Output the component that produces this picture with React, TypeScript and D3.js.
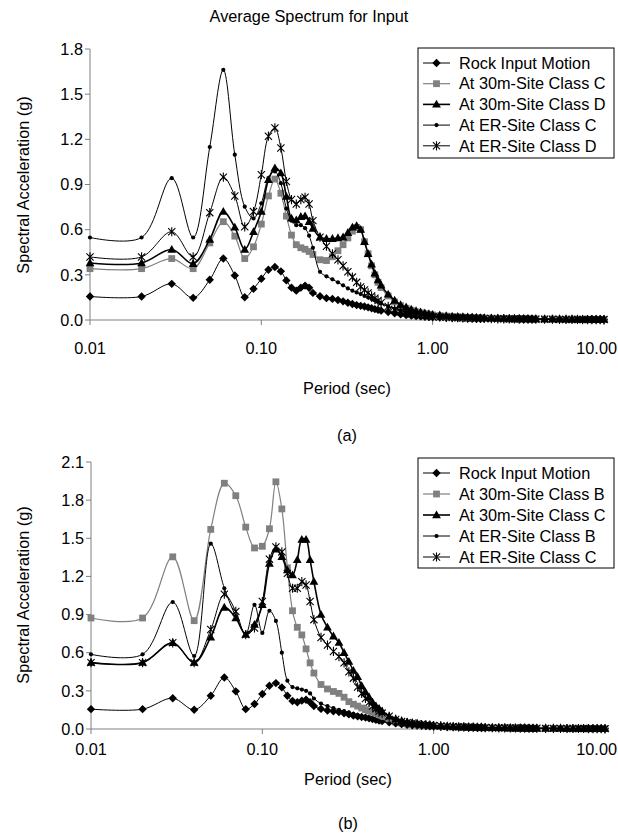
import React from 'react';
import * as d3 from 'd3';

const periods = [
  0.01, 0.02, 0.03, 0.04, 0.05, 0.06, 0.07, 0.08, 0.09, 0.10,
  0.11, 0.12, 0.13, 0.14, 0.15, 0.16, 0.17, 0.18, 0.19, 0.20,
  0.22, 0.24, 0.26, 0.28, 0.30, 0.32, 0.34, 0.36, 0.38, 0.40, 0.42, 0.44, 0.46, 0.48, 0.50,
  0.55, 0.60, 0.65, 0.70, 0.75, 0.80, 0.85, 0.90, 0.95, 1.0,
  1.1, 1.2, 1.3, 1.4, 1.5, 1.6, 1.7, 1.8, 1.9, 2.0,
  2.2, 2.4, 2.6, 2.8, 3.0, 3.2, 3.4, 3.6, 3.8, 4.0,
  4.5, 5.0, 5.5, 6.0, 6.5, 7.0, 7.5, 8.0, 8.5, 9.0, 9.5, 10.0,
];

// ---------- Panel (a) ----------
const rockA = [
  0.156, 0.156, 0.24, 0.147, 0.267, 0.408, 0.296, 0.151, 0.207, 0.274,
  0.334, 0.352, 0.323, 0.263, 0.215, 0.195, 0.215, 0.228, 0.214, 0.18,
  0.158, 0.145, 0.14, 0.133, 0.124, 0.115, 0.106, 0.099, 0.094, 0.09, 0.084, 0.078, 0.072, 0.067, 0.062,
  0.053, 0.045, 0.038, 0.033, 0.03, 0.027, 0.025, 0.023, 0.021, 0.02,
  0.018, 0.016, 0.015, 0.014, 0.013, 0.012, 0.011, 0.011, 0.010, 0.010,
  0.009, 0.009, 0.008, 0.008, 0.007, 0.007, 0.007, 0.006, 0.006, 0.006,
  0.005, 0.005, 0.005, 0.004, 0.004, 0.004, 0.004, 0.004, 0.003, 0.003, 0.003, 0.003,
];
const site30CA = [
  0.341, 0.341, 0.408, 0.341, 0.512, 0.653, 0.557, 0.408, 0.486, 0.637,
  0.824, 0.936, 0.842, 0.69, 0.564, 0.50, 0.48, 0.47, 0.455, 0.435,
  0.40, 0.395, 0.42, 0.46, 0.50, 0.545, 0.59, 0.615, 0.60, 0.52, 0.44, 0.36, 0.30, 0.25, 0.215,
  0.16, 0.12, 0.095, 0.078, 0.065, 0.055, 0.048, 0.042, 0.038, 0.033,
  0.029, 0.026, 0.023, 0.021, 0.019, 0.017, 0.016, 0.015, 0.014, 0.013,
  0.012, 0.011, 0.010, 0.009, 0.009, 0.008, 0.008, 0.007, 0.007, 0.007,
  0.006, 0.006, 0.005, 0.005, 0.005, 0.005, 0.004, 0.004, 0.004, 0.004, 0.004, 0.003,
];
const site30DA = [
  0.379, 0.379, 0.468, 0.374, 0.535, 0.72, 0.615, 0.468, 0.586, 0.72,
  0.931, 1.009, 0.976, 0.82, 0.675, 0.664, 0.686, 0.69, 0.653, 0.608,
  0.55, 0.54, 0.54, 0.545, 0.55, 0.58, 0.615, 0.625, 0.60, 0.52, 0.44, 0.37, 0.31, 0.265, 0.23,
  0.17, 0.13, 0.10, 0.085, 0.07, 0.06, 0.052, 0.046, 0.041, 0.036,
  0.032, 0.028, 0.025, 0.023, 0.021, 0.019, 0.018, 0.016, 0.015, 0.014,
  0.013, 0.012, 0.011, 0.010, 0.009, 0.009, 0.008, 0.008, 0.007, 0.007,
  0.006, 0.006, 0.006, 0.005, 0.005, 0.005, 0.005, 0.004, 0.004, 0.004, 0.004, 0.004,
];
const erCA = [
  0.548, 0.548, 0.942, 0.548, 1.149, 1.662, 1.098, 0.753, 0.675, 0.775,
  0.942, 0.987, 0.909, 0.74, 0.66, 0.63, 0.63, 0.61, 0.56, 0.48,
  0.32, 0.29, 0.27, 0.25, 0.23, 0.21, 0.195, 0.183, 0.172, 0.16, 0.15, 0.14, 0.13, 0.12, 0.11,
  0.09, 0.075, 0.062, 0.052, 0.045, 0.04, 0.035, 0.031, 0.028, 0.025,
  0.022, 0.02, 0.018, 0.016, 0.015, 0.014, 0.013, 0.012, 0.011, 0.010,
  0.009, 0.009, 0.008, 0.008, 0.007, 0.007, 0.006, 0.006, 0.006, 0.005,
  0.005, 0.005, 0.004, 0.004, 0.004, 0.004, 0.003, 0.003, 0.003, 0.003, 0.003, 0.003,
];
const erDA = [
  0.419, 0.419, 0.586, 0.419, 0.713, 0.949, 0.824, 0.619, 0.72, 0.965,
  1.221, 1.276, 1.143, 0.92, 0.80, 0.77, 0.80, 0.815, 0.77, 0.66,
  0.55, 0.49, 0.44, 0.40, 0.36, 0.32, 0.285, 0.25, 0.22, 0.20, 0.18, 0.16, 0.145, 0.13, 0.115,
  0.09, 0.07, 0.055, 0.046, 0.04, 0.035, 0.031, 0.028, 0.025, 0.022,
  0.020, 0.018, 0.016, 0.015, 0.014, 0.013, 0.012, 0.011, 0.010, 0.010,
  0.009, 0.008, 0.008, 0.007, 0.007, 0.006, 0.006, 0.006, 0.005, 0.005,
  0.005, 0.005, 0.004, 0.004, 0.004, 0.004, 0.003, 0.003, 0.003, 0.003, 0.003, 0.003,
];

// ---------- Panel (b) ----------
const rockB = [
  0.156, 0.156, 0.242, 0.151, 0.262, 0.405, 0.296, 0.156, 0.197, 0.275,
  0.34, 0.361, 0.327, 0.262, 0.22, 0.21, 0.223, 0.23, 0.21, 0.18,
  0.158, 0.145, 0.14, 0.133, 0.124, 0.115, 0.106, 0.099, 0.094, 0.09, 0.084, 0.078, 0.072, 0.067, 0.062,
  0.053, 0.045, 0.038, 0.033, 0.03, 0.027, 0.025, 0.023, 0.021, 0.02,
  0.018, 0.016, 0.015, 0.014, 0.013, 0.012, 0.011, 0.011, 0.010, 0.010,
  0.009, 0.009, 0.008, 0.008, 0.007, 0.007, 0.007, 0.006, 0.006, 0.006,
  0.005, 0.005, 0.005, 0.004, 0.004, 0.004, 0.004, 0.004, 0.003, 0.003, 0.003, 0.003,
];
const site30BB = [
  0.873, 0.873, 1.354, 0.852, 1.57, 1.933, 1.835, 1.588, 1.424, 1.437,
  1.575, 1.944, 1.731, 1.268, 0.93, 0.80, 0.74, 0.63, 0.52, 0.44,
  0.35, 0.315, 0.295, 0.28, 0.25, 0.215, 0.195, 0.18, 0.165, 0.152, 0.142, 0.133, 0.125, 0.11, 0.095,
  0.07, 0.055, 0.046, 0.04, 0.036, 0.032, 0.029, 0.027, 0.025, 0.022,
  0.02, 0.018, 0.016, 0.015, 0.014, 0.013, 0.012, 0.011, 0.010, 0.010,
  0.009, 0.008, 0.008, 0.007, 0.007, 0.006, 0.006, 0.006, 0.005, 0.005,
  0.005, 0.005, 0.004, 0.004, 0.004, 0.004, 0.003, 0.003, 0.003, 0.003, 0.003, 0.003,
];
const site30CB = [
  0.522, 0.522, 0.678, 0.522, 0.722, 0.956, 0.873, 0.743, 0.821, 0.977,
  1.302, 1.414, 1.354, 1.25, 1.21, 1.33, 1.49, 1.49, 1.33, 1.16,
  0.90, 0.80, 0.73, 0.68, 0.60, 0.53, 0.46, 0.41, 0.34, 0.29, 0.25, 0.21, 0.18, 0.16, 0.14,
  0.10, 0.078, 0.065, 0.055, 0.048, 0.042, 0.037, 0.033, 0.03, 0.027,
  0.024, 0.021, 0.019, 0.017, 0.016, 0.015, 0.014, 0.013, 0.012, 0.011,
  0.010, 0.009, 0.009, 0.008, 0.008, 0.007, 0.007, 0.006, 0.006, 0.006,
  0.005, 0.005, 0.005, 0.004, 0.004, 0.004, 0.004, 0.003, 0.003, 0.003, 0.003, 0.003,
];
const erBB = [
  0.587, 0.587, 0.998, 0.574, 1.458, 1.107, 0.886, 0.748, 0.977, 0.756,
  0.93, 0.85, 0.60, 0.38, 0.33, 0.32, 0.31, 0.30, 0.28, 0.24,
  0.20, 0.18, 0.165, 0.15, 0.14, 0.13, 0.12, 0.11, 0.10, 0.09, 0.083, 0.076, 0.07, 0.063, 0.057,
  0.045, 0.036, 0.03, 0.026, 0.023, 0.021, 0.019, 0.017, 0.016, 0.015,
  0.014, 0.013, 0.012, 0.011, 0.010, 0.010, 0.009, 0.009, 0.008, 0.008,
  0.007, 0.007, 0.006, 0.006, 0.006, 0.005, 0.005, 0.005, 0.005, 0.004,
  0.004, 0.004, 0.004, 0.003, 0.003, 0.003, 0.003, 0.003, 0.003, 0.003, 0.002, 0.002,
];
const erCB = [
  0.522, 0.522, 0.678, 0.522, 0.782, 1.06, 0.925, 0.743, 0.795, 1.003,
  1.336, 1.432, 1.393, 1.224, 1.107, 1.107, 1.159, 1.133, 1.003, 0.86,
  0.72, 0.66, 0.61, 0.57, 0.52, 0.45, 0.40, 0.33, 0.28, 0.24, 0.21, 0.18, 0.16, 0.14, 0.125,
  0.10, 0.075, 0.06, 0.05, 0.045, 0.04, 0.035, 0.032, 0.03, 0.027,
  0.024, 0.021, 0.019, 0.017, 0.016, 0.015, 0.014, 0.013, 0.012, 0.011,
  0.010, 0.009, 0.009, 0.008, 0.008, 0.007, 0.007, 0.006, 0.006, 0.006,
  0.005, 0.005, 0.005, 0.004, 0.004, 0.004, 0.004, 0.003, 0.003, 0.003, 0.003, 0.003,
];

const labelsA = ['Rock Input Motion', 'At 30m-Site Class C', 'At 30m-Site Class D', 'At ER-Site Class C', 'At ER-Site Class D'];
const labelsB = ['Rock Input Motion', 'At 30m-Site Class B', 'At 30m-Site Class C', 'At ER-Site Class B', 'At ER-Site Class C'];
const xTicks = [0.01, 0.1, 1, 10];
const xTickLabels = ['0.01', '0.10', '1.00', '10.00'];
const yTicksA = [0, 0.3, 0.6, 0.9, 1.2, 1.5, 1.8];
const yTicksB = [0, 0.3, 0.6, 0.9, 1.2, 1.5, 1.8, 2.1];

const FONT = '"Liberation Sans", Arial, sans-serif';
const FS = 16.3;
const GRAY = '#808080';

type MarkerKind = 'diamond' | 'square' | 'triangle' | 'dot' | 'star';
const styles: { marker: MarkerKind; stroke: string; width: number }[] = [
  { marker: 'diamond', stroke: '#000', width: 1 },
  { marker: 'square', stroke: GRAY, width: 1.2 },
  { marker: 'triangle', stroke: '#000', width: 1.6 },
  { marker: 'dot', stroke: '#000', width: 1 },
  { marker: 'star', stroke: '#000', width: 1 },
];

function Marker({ kind, x, y }: { kind: MarkerKind; x: number; y: number }) {
  switch (kind) {
    case 'diamond':
      return <path d={`M${x},${y - 4.2}L${x + 4.2},${y}L${x},${y + 4.2}L${x - 4.2},${y}Z`} fill="#000" />;
    case 'square':
      return <rect x={x - 3.4} y={y - 3.4} width={6.8} height={6.8} fill={GRAY} />;
    case 'triangle':
      return <path d={`M${x},${y - 4.6}L${x + 4.4},${y + 3.2}L${x - 4.4},${y + 3.2}Z`} fill="#000" />;
    case 'dot':
      return <circle cx={x} cy={y} r={2.1} fill="#000" />;
    case 'star':
      return (
        <path
          d={`M${x - 3.6},${y - 3.6}L${x + 3.6},${y + 3.6}M${x - 3.6},${y + 3.6}L${x + 3.6},${y - 3.6}M${x},${y - 4.6}L${x},${y + 4.6}`}
          stroke="#000"
          strokeWidth={1.1}
          fill="none"
        />
      );
  }
  return null;
}

type PanelProps = {
  series: number[][];
  labels: string[];
  yTicks: number[];
  yMax: number;
  x0: number;
  x1: number;
  yBottom: number;
  yTop: number;
  legendX: number;
  legendY: number;
  legendH: number;
  rowH: number;
  yTitleY: number;
  tickLabelY: number;
  xTitleY: number;
  captionY: number;
  caption: string;
};

function Panel(p: PanelProps) {
  const x = d3.scaleLog().domain([0.01, 10]).range([p.x0, p.x1]);
  const y = d3.scaleLinear().domain([0, p.yMax]).range([p.yBottom, p.yTop]);
  const line = d3
    .line<number>()
    .x((_, i) => x(periods[i]))
    .y((d) => y(d))
    .curve(d3.curveCatmullRom.alpha(0.5));
  const legendW = 196;
  const cx = (p.x0 + p.x1) / 2;
  return (
    <g>
      <line x1={p.x0} x2={p.x0} y1={p.yTop} y2={p.yBottom} stroke={GRAY} strokeWidth={1} />
      <line x1={p.x0} x2={p.x1 + 2} y1={p.yBottom} y2={p.yBottom} stroke={GRAY} strokeWidth={1} />
      {p.yTicks.map((t) => (
        <g key={t}>
          <line x1={p.x0 - 5} x2={p.x0} y1={y(t)} y2={y(t)} stroke={GRAY} />
          <text x={p.x0 - 7} y={y(t)} dy="0.35em" textAnchor="end" fontSize={FS} fontFamily={FONT}>
            {t.toFixed(1)}
          </text>
        </g>
      ))}
      {xTicks.map((t, i) => {
        const last = i === xTicks.length - 1;
        return (
          <g key={t}>
            <line x1={x(t)} x2={x(t)} y1={p.yBottom} y2={p.yBottom + 5} stroke={GRAY} />
            <text
              x={last ? 617 : x(t)}
              y={p.tickLabelY}
              dy="0.35em"
              textAnchor={last ? 'end' : 'middle'}
              fontSize={FS}
              fontFamily={FONT}
            >
              {xTickLabels[i]}
            </text>
          </g>
        );
      })}
      <text
        transform={`translate(23,${p.yTitleY}) rotate(-90)`}
        textAnchor="middle"
        dy="0.35em"
        fontSize={FS}
        fontFamily={FONT}
      >
        Spectral Acceleration (g)
      </text>
      <text x={cx} y={p.xTitleY} dy="0.35em" textAnchor="middle" fontSize={FS} fontFamily={FONT}>
        Period (sec)
      </text>
      <text x={cx} y={p.captionY} dy="0.35em" textAnchor="middle" fontSize={FS} fontFamily={FONT}>
        {p.caption}
      </text>
      {p.series.map((s, si) => (
        <g key={si}>
          <path d={line(s) || ''} fill="none" stroke={styles[si].stroke} strokeWidth={styles[si].width} />
          {s.map((v, i) => (
            <Marker key={i} kind={styles[si].marker} x={x(periods[i])} y={y(v)} />
          ))}
        </g>
      ))}
      <rect x={p.legendX} y={p.legendY} width={legendW} height={p.legendH} fill="#fff" stroke="#000" strokeWidth={1} />
      {p.labels.map((lab, i) => {
        const ly = p.legendY + 15 + i * p.rowH;
        return (
          <g key={lab}>
            <line x1={p.legendX + 5} x2={p.legendX + 32} y1={ly} y2={ly} stroke={styles[i].stroke} strokeWidth={styles[i].width} />
            <Marker kind={styles[i].marker} x={p.legendX + 18.5} y={ly} />
            <text x={p.legendX + 41} y={ly} dy="0.35em" fontSize={FS} fontFamily={FONT}>
              {lab}
            </text>
          </g>
        );
      })}
    </g>
  );
}

export default function App() {
  return (
    <svg width={618} height={837} style={{ position: 'absolute', left: 0, top: 0, background: '#fff' }}>
      <rect width={618} height={837} fill="#fff" />
      <text x={309} y={16} dy="0.35em" textAnchor="middle" fontSize={FS} fontFamily={FONT}>
        Average Spectrum for Input
      </text>
      <Panel
        series={[rockA, site30CA, site30DA, erCA, erDA]}
        labels={labelsA}
        yTicks={yTicksA}
        yMax={1.8}
        x0={90}
        x1={604}
        yBottom={320}
        yTop={49}
        legendX={418}
        legendY={48}
        legendH={110}
        rowH={20.7}
        yTitleY={185}
        tickLabelY={348}
        xTitleY={388}
        captionY={435}
        caption="(a)"
      />
      <Panel
        series={[rockB, site30BB, site30CB, erBB, erCB]}
        labels={labelsB}
        yTicks={yTicksB}
        yMax={2.1}
        x0={91}
        x1={605}
        yBottom={729}
        yTop={462}
        legendX={418}
        legendY={458}
        legendH={110}
        rowH={21}
        yTitleY={595}
        tickLabelY={749}
        xTitleY={779}
        captionY={823}
        caption="(b)"
      />
    </svg>
  );
}
